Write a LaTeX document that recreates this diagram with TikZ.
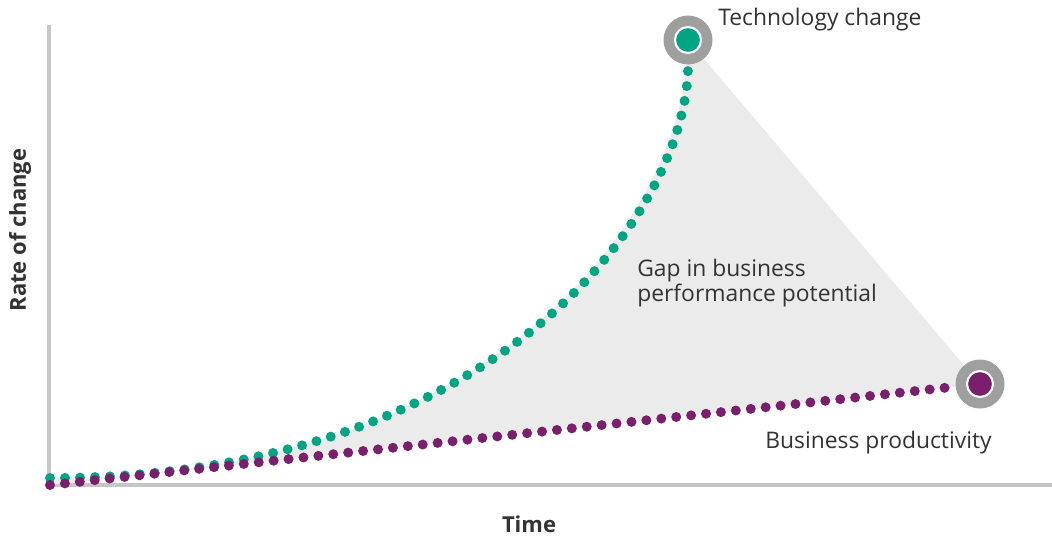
\documentclass[tikz,border=0pt]{standalone}
\usepackage{fontspec}
\setmainfont{Open Sans}
\usetikzlibrary{positioning}
\definecolor{techgreen}{HTML}{00A683}
\definecolor{bizpurple}{HTML}{7A1F6C}
\definecolor{gapgray}{HTML}{EBEBEB}
\definecolor{axisgray}{HTML}{C6C6C6}
\definecolor{txtgray}{HTML}{333333}
\tikzset{
  axis/.style={draw=axisgray,line width=2.2pt},
  dots/.style={line width=0.2cm,line cap=round,dash pattern=on 0pt off 0.3cm},
  ring/.style={circle,fill=gray!75,minimum size=0.98cm,inner sep=0pt},
  core/.style={circle,draw=white,line width=1.2pt,minimum size=0.52cm,inner sep=0pt},
  lbl/.style={text=txtgray,font=\fontsize{13}{14.2}\selectfont,inner sep=0pt},
  axlbl/.style={text=txtgray,font=\fontsize{12.5}{15}\selectfont\bfseries,inner sep=0pt}
}
\begin{document}
\begin{tikzpicture}[x=0.02cm,y=-0.02cm]
\useasboundingbox (0,0) rectangle (1052,535);
% axes
\coordinate (top) at (49,25);
\coordinate (orig) at (49,485);
\coordinate (right) at (1052,485);
\draw[axis] (top) -- (orig) -- (right);
\node[axlbl,rotate=90] (ylbl) at (20,230) {Rate of change};
\node[axlbl] (xlbl) at (529,524) {Time};
% gap area
\coordinate (techc) at (688,40);
\coordinate (bizc) at (980,384);
\coordinate (gstart) at (50,478);
\coordinate (pstart) at (50,485);
\fill[gapgray] (gstart) .. controls (498,478) and (688,211) .. (techc) -- (bizc) -- (pstart) -- cycle;
% markers
\node[ring] (tech) at (techc) {};
\node[core,fill=techgreen] (techdot) at (tech) {};
\node[ring] (biz) at (bizc) {};
\node[core,fill=bizpurple] (bizdot) at (biz) {};
% curves
\draw[dots,techgreen] (gstart) .. controls (498,478) and (688,211) .. (tech);
\draw[dots,bizpurple] (pstart) -- (biz);
% labels
\node[lbl,anchor=west] (techlbl) at (718,20) {Technology change};
\node[lbl,anchor=west] (bizlbl) at (765,443) {Business productivity};
\node[lbl,anchor=west,align=left] (gaplbl) at (637,283) {Gap in business\\performance potential};
\end{tikzpicture}
\end{document}
